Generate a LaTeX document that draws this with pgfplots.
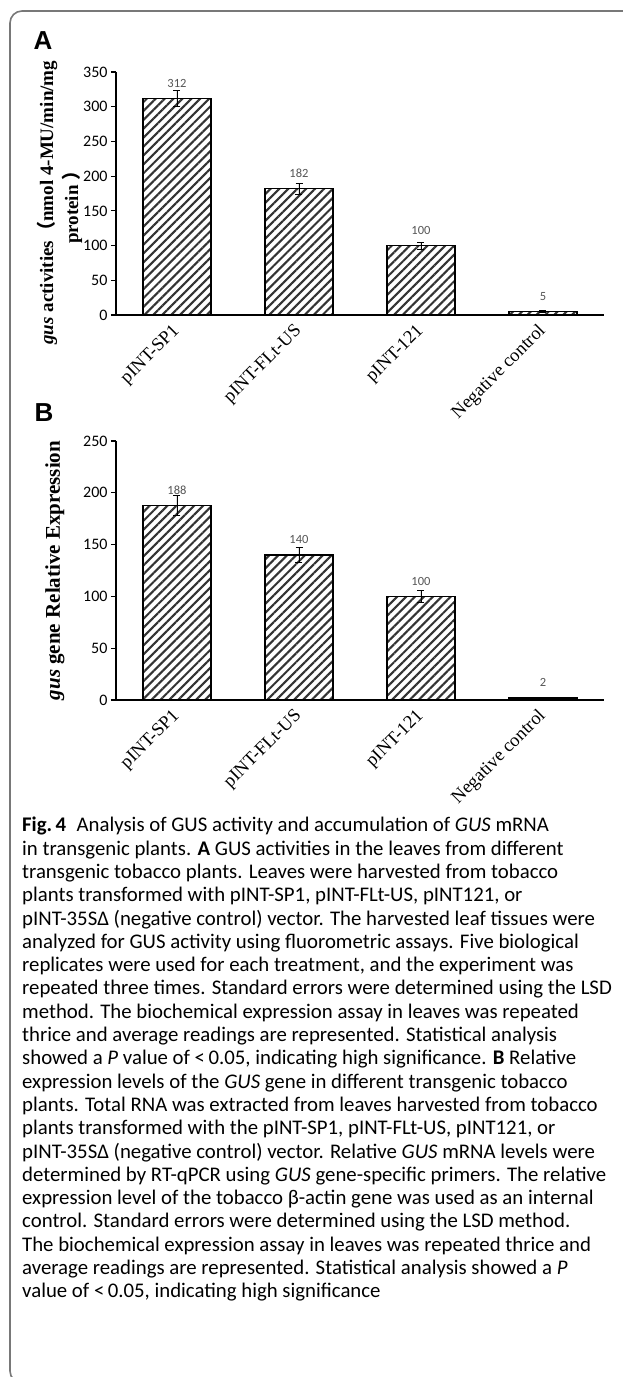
\documentclass[border=0pt]{standalone}
\usepackage{fontspec}
\setmainfont{Liberation Serif}
\newfontfamily\capfont{Carlito}
\newfontfamily\tickfont{Carlito}
\newfontfamily\panelfont{Liberation Sans}
\newfontfamily\cjk{Noto Sans CJK SC}
\usepackage{pgfplots}
\pgfplotsset{compat=1.18}
\usetikzlibrary{patterns.meta}

\definecolor{bordergray}{HTML}{787878}
\definecolor{hatch}{HTML}{333333}
\definecolor{vallab}{HTML}{555555}

\pgfplotsset{
 barpanel/.style={
   scale only axis, width=488pt,
   xmin=-0.5, xmax=3.5, ymin=0,
   axis lines*=left,
   axis line style={line width=1.3pt, black},
   xtick={0,1,2,3},
   xticklabels={pINT-SP1,pINT-FLt-US,pINT-121,Negative control},
   xtick style={draw=none},
   xticklabel style={rotate=45, anchor=east, font=\fontsize{18.5}{18.5}\selectfont, inner sep=1pt, yshift=-6pt, xshift=-5pt},
   ytick style={line width=1.1pt, black},
   tick align=outside, major tick length=5pt,
   yticklabel style={font=\tickfont\fontsize{16}{16}\selectfont},
   /pgf/number format/assume math mode=true,
   ylabel style={font=\fontsize{19}{25}\selectfont\bfseries, align=center, anchor=center},
   clip=false,
 },
 hbar/.style={ybar, bar width=68pt, draw=black, line width=1.3pt,
   pattern={Lines[angle=45,distance=6.3pt,line width=2.1pt]}, pattern color=hatch,
   error bars/y dir=both, error bars/y explicit,
   error bars/error bar style={line width=0.9pt, black, solid},
   error bars/error mark options={rotate=90, mark size=3.5pt, line width=0.9pt, black},
   nodes near coords,
   every node near coord/.append style={inner sep=0pt, yshift=10.5pt,
     font=\tickfont\fontsize{12.5}{12.5}\selectfont, text=vallab},
 },
}

\begin{document}
\begin{tikzpicture}
\useasboundingbox (0,0) rectangle (622pt,-1377pt);
\fill[white] (0,0) rectangle (622pt,-1377pt);
% frame
\draw[bordergray, line width=1.6pt, rounded corners=12pt]
  (640pt,-11pt) -- (10pt,-11pt) -- (10pt,-1383pt) -- (640pt,-1383pt);

% panel letters
\node[font=\panelfont\bfseries\fontsize{26}{26}\selectfont, inner sep=0pt] at (43pt,-41pt) {A};
\node[font=\panelfont\bfseries\fontsize{26}{26}\selectfont, inner sep=0pt] at (44pt,-413pt) {B};

% Panel A
\begin{axis}[barpanel,
  at={(116pt,-315pt)}, anchor=south west,
  height=243pt, ymax=350, ytick={0,50,...,350},
  ylabel={\textit{gus} activities{\cjk （}nmol 4-MU/min/mg\\protein {\cjk ）}},
  ylabel style={at={(axis description cs:-0.1158,0.462)}},
]
\addplot[hbar] coordinates {
 (0,312) +- (0,12)
 (1,182) +- (0,8)
 (2,100) +- (0,5)
 (3,5)   +- (0,1)
};
\end{axis}

% Panel B
\begin{axis}[barpanel,
  at={(116pt,-700pt)}, anchor=south west,
  height=259pt, ymax=250, ytick={0,50,...,250},
  ylabel={\textit{gus} gene Relative Expression},
  ylabel style={at={(axis description cs:-0.125,0.5)}, font=\fontsize{21}{25}\selectfont\bfseries},
]
\addplot[hbar] coordinates {
 (0,188) +- (0,9.5)
 (1,140) +- (0,7)
 (2,100) +- (0,5.5)
 (3,2)   +- (0,0.5)
};
\end{axis}

% caption
\node[anchor=north west, inner sep=0pt, align=left,
      font=\capfont\fontsize{20.8}{23.3}\selectfont] at (22pt,-817pt) {%
\textbf{Fig.\,4}\enspace Analysis of GUS activity and accumulation of \textit{GUS} mRNA\\
in transgenic plants. \textbf{A} GUS activities in the leaves from different\\
transgenic tobacco plants. Leaves were harvested from tobacco\\
plants transformed with pINT-SP1, pINT-FLt-US, pINT121, or\\
pINT-35SΔ (negative control) vector. The harvested leaf tissues were\\
analyzed for GUS activity using fluorometric assays. Five biological\\
replicates were used for each treatment, and the experiment was\\
repeated three times. Standard errors were determined using the LSD\\
method. The biochemical expression assay in leaves was repeated\\
thrice and average readings are represented. Statistical analysis\\
showed a \textit{P} value of <\,0.05, indicating high significance. \textbf{B} Relative\\
expression levels of the \textit{GUS} gene in different transgenic tobacco\\
plants. Total RNA was extracted from leaves harvested from tobacco\\
plants transformed with the pINT-SP1, pINT-FLt-US, pINT121, or\\
pINT-35SΔ (negative control) vector. Relative \textit{GUS} mRNA levels were\\
determined by RT-qPCR using \textit{GUS} gene-specific primers. The relative\\
expression level of the tobacco β-actin gene was used as an internal\\
control. Standard errors were determined using the LSD method.\\
The biochemical expression assay in leaves was repeated thrice and\\
average readings are represented. Statistical analysis showed a \textit{P}\\
value of <\,0.05, indicating high significance};
\end{tikzpicture}
\end{document}
